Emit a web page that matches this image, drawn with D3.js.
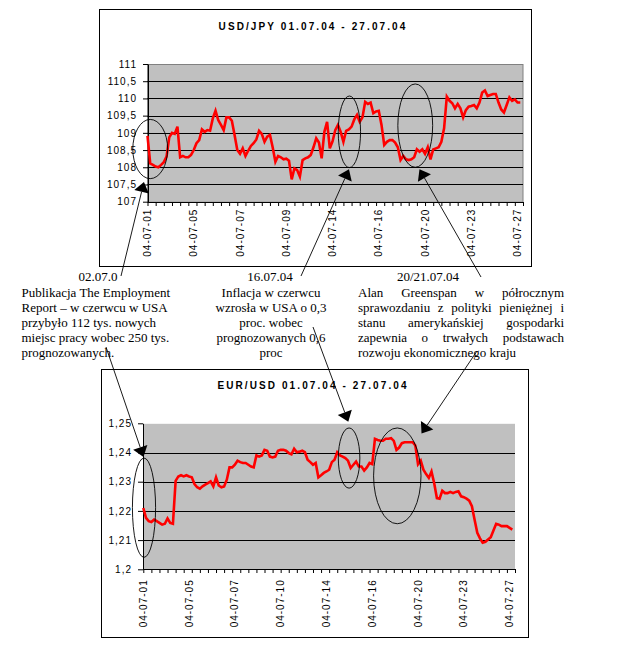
<!DOCTYPE html>
<html>
<head>
<meta charset="utf-8">
<script src="https://cdn.jsdelivr.net/npm/d3@7"></script>
<style>
body { margin: 0; background: #fff; }
svg { display: block; }
</style>
</head>
<body>
<svg id="chart" width="618" height="668"></svg>
<script>
// USD/JPY, one value per category slot
var usdJpy = [
	108.91, 108.11, 108.07, 108.02, 108.00, 108.07, 108.15, 108.31, 108.87, 109.00,
	108.97, 109.18, 108.29, 108.33, 108.29, 108.29, 108.36, 108.50, 108.70, 108.79,
	109.10, 109.03, 109.08, 109.06, 109.42, 109.64, 109.37, 109.23, 109.08, 109.45,
	109.45, 109.35, 108.94, 108.50, 108.39, 108.55, 108.33, 108.48, 108.62, 108.70,
	108.81, 109.06, 108.97, 108.74, 108.89, 108.94, 108.58, 108.16, 108.33, 108.29,
	108.23, 108.25, 108.19, 107.65, 107.97, 107.92, 107.73, 108.21, 108.26, 108.29,
	108.36, 108.58, 108.84, 108.72, 108.26, 109.03, 109.32, 108.55, 108.75, 109.08,
	109.23, 109.03, 108.74, 109.06, 109.10, 109.18, 109.39, 109.52, 109.32, 109.45,
	109.90, 109.84, 109.88, 109.57, 109.62, 109.64, 109.23, 108.65, 108.74, 108.79,
	108.79, 108.72, 108.58, 108.21, 108.33, 108.23, 108.21, 108.23, 108.29, 108.52,
	108.45, 108.52, 108.39, 108.58, 108.23, 108.52, 108.55, 108.58, 108.74, 109.13,
	110.05, 109.93, 109.86, 109.71, 109.84, 109.71, 109.45, 109.66, 109.76, 109.78,
	109.81, 109.71, 109.88, 110.17, 110.23, 110.07, 110.10, 110.13, 110.13, 109.88,
	109.68, 109.59, 109.81, 110.03, 109.93, 109.97, 109.88, 109.88
];

// EUR/USD
var eurUsd = [
	1.2210, 1.2176, 1.2165, 1.2162, 1.2170, 1.2165, 1.2159, 1.2153, 1.2156, 1.2174,
	1.2159, 1.2156, 1.2303, 1.2318, 1.2322, 1.2318, 1.2322, 1.2318, 1.2315, 1.2292,
	1.2281, 1.2276, 1.2284, 1.2290, 1.2295, 1.2301, 1.2284, 1.2315, 1.2287, 1.2281,
	1.2284, 1.2307, 1.2349, 1.2349, 1.2358, 1.2372, 1.2367, 1.2364, 1.2364, 1.2358,
	1.2352, 1.2349, 1.2390, 1.2386, 1.2390, 1.2409, 1.2406, 1.2386, 1.2383, 1.2386,
	1.2406, 1.2409, 1.2409, 1.2406, 1.2398, 1.2394, 1.2413, 1.2401, 1.2403, 1.2406,
	1.2401, 1.2375, 1.2367, 1.2358, 1.2364, 1.2315, 1.2322, 1.2330, 1.2335, 1.2341,
	1.2367, 1.2375, 1.2401, 1.2390, 1.2386, 1.2381, 1.2372, 1.2347, 1.2358, 1.2369,
	1.2352, 1.2352, 1.2338, 1.2349, 1.2364, 1.2360, 1.2447, 1.2443, 1.2440, 1.2440,
	1.2447, 1.2447, 1.2449, 1.2440, 1.2409, 1.2417, 1.2432, 1.2435, 1.2435, 1.2435,
	1.2435, 1.2424, 1.2360, 1.2372, 1.2341, 1.2326, 1.2313, 1.2335, 1.2295, 1.2244,
	1.2242, 1.2269, 1.2261, 1.2261, 1.2265, 1.2261, 1.2265, 1.2267, 1.2250, 1.2247,
	1.2242, 1.2235, 1.2216, 1.2170, 1.2125, 1.2106, 1.2091, 1.2094, 1.2102, 1.2110,
	1.2133, 1.2156, 1.2153, 1.2148, 1.2148, 1.2148, 1.2142, 1.2136
];

var topDates = ["04-07-01", "04-07-05", "04-07-07", "04-07-09", "04-07-14", "04-07-16", "04-07-20", "04-07-23", "04-07-27"];
var bottomDates = ["04-07-01", "04-07-05", "04-07-07", "04-07-10", "04-07-14", "04-07-16", "04-07-20", "04-07-23", "04-07-27"];
var topTicks = [107, 107.5, 108, 108.5, 109, 109.5, 110, 110.5, 111];
var bottomTicks = [1.2, 1.21, 1.22, 1.23, 1.24, 1.25];

var topTitle = "USD/JPY 01.07.04 - 27.07.04";
var bottomTitle = "EUR/USD 01.07.04 - 27.07.04";

// ellipses: centre (slot, value), radii (slots, value units)
var topRings = [[1.0, 108.53, 6.4, 0.86], [74.2, 109.03, 4.1, 1.04], [98.4, 109.21, 6.4, 1.21]];
var bottomRings = [[0.26, 1.2211, 4.3, 0.0170], [76.4, 1.2381, 4.0, 0.0103], [94.3, 1.2320, 8.8, 0.0164]];

// arrow tips in chart coordinates (slot, value)
var topTips = [[-1.3, 107.57], [74.05, 107.94], [99.96, 107.94]];
var bottomTips = [[0.07, 1.2385], [76.1, 1.2505], [103.3, 1.2465]];

var noteDates = ["02.07.0", "16.07.04", "20/21.07.04"];
var note1 = ["Publikacja The Employment", "Report \u2013 w czerwcu w USA", "przybyło 112 tys. nowych", "miejsc pracy wobec 250 tys.", "prognozowanych."];
var note2 = ["Inflacja w czerwcu", "wzrosła w USA o 0,3", "proc. wobec", "prognozowanych 0,6", "proc"];
var note3 = ["Alan Greenspan w półrocznym", "sprawozdaniu z polityki pieniężnej i", "stanu amerykańskiej gospodarki", "zapewnia o trwałych podstawach", "rozwoju ekonomicznego kraju"];

var slots = 138, tickEvery = 3, labelEvery = 17;

var svg = d3.select("#chart");
var axisFont = "Arial, 'Liberation Sans', sans-serif";
var noteFont = "'Times New Roman', 'Liberation Serif', serif";

function fmt(d) {
	return String(d).replace(".", ",");
}

function drawChart(cfg, values, ticks, dates, title, rings) {
	var g = svg.append("g");
	var p = cfg.plot;

	g.append("rect")
		.attr("x", cfg.frame[0] + 0.5).attr("y", cfg.frame[1] + 0.5)
		.attr("width", cfg.frame[2] - cfg.frame[0]).attr("height", cfg.frame[3] - cfg.frame[1])
		.attr("fill", "#fff").attr("stroke", "#000");

	var x = d3.scaleLinear().domain([0, slots]).range([p[0], p[2]]);
	var y = d3.scaleLinear().domain([ticks[0], ticks[ticks.length - 1]]).range([p[3], p[1]]);

	g.append("rect")
		.attr("x", p[0]).attr("y", p[1] + 0.5)
		.attr("width", p[2] - p[0]).attr("height", p[3] - p[1])
		.attr("fill", "#c0c0c0")
		.attr("stroke", cfg.border ? "#808080" : "none");

	g.append("g").selectAll("line")
		.data(ticks.slice(1, -1))
		.join("line")
		.attr("x1", p[0]).attr("x2", p[2])
		.attr("y1", function(d) { return Math.round(y(d)) + 0.5; })
		.attr("y2", function(d) { return Math.round(y(d)) + 0.5; })
		.attr("stroke", "#000");

	var yAxis = g.append("g")
		.attr("transform", "translate(" + Math.round(p[0]) + ",0)")
		.call(d3.axisLeft(y).tickValues(ticks).tickSize(5).tickPadding(6).tickSizeOuter(0).tickFormat(fmt));

	var xAxis = g.append("g")
		.attr("transform", "translate(0," + Math.round(p[3]) + ")")
		.call(d3.axisBottom(x).tickValues(d3.range(0, slots + 1, tickEvery)).tickSize(4).tickSizeOuter(0).tickFormat(""));

	[yAxis, xAxis].forEach(function(a) {
		a.selectAll("path, line").attr("stroke", "#000");
	});
	yAxis.selectAll("text")
		.attr("font-family", axisFont).attr("font-size", 10)
		.attr("letter-spacing", 1).attr("fill", "#000");

	g.append("g").selectAll("text")
		.data(dates)
		.join("text")
		.attr("transform", function(d, i) {
			return "translate(" + x(i * labelEvery) + "," + (p[3] + cfg.labelGap) + ") rotate(-90)";
		})
		.attr("dy", "0.35em")
		.attr("text-anchor", "end")
		.attr("font-family", axisFont).attr("font-size", 10)
		.attr("letter-spacing", 1)
		.text(function(d) { return d; });

	var line = d3.line()
		.x(function(d, i) { return x(i); })
		.y(function(d) { return y(d); });

	g.append("path")
		.datum(values)
		.attr("d", line)
		.attr("fill", "none")
		.attr("stroke", "#ff0000")
		.attr("stroke-width", 2.6);

	g.append("g").selectAll("ellipse")
		.data(rings)
		.join("ellipse")
		.attr("cx", function(d) { return x(d[0]); })
		.attr("cy", function(d) { return y(d[1]); })
		.attr("rx", function(d) { return x(d[2]) - x(0); })
		.attr("ry", function(d) { return y(0) - y(d[3]); })
		.attr("fill", "none")
		.attr("stroke", "#000")
		.attr("stroke-width", 0.9);

	g.append("text")
		.attr("x", 313).attr("y", cfg.titleY)
		.attr("text-anchor", "middle")
		.attr("font-family", axisFont).attr("font-size", 10)
		.attr("font-weight", "bold")
		.attr("letter-spacing", 2.1)
		.text(title);

	return {x: x, y: y};
}

var topChart = drawChart(
	{frame: [99, 9, 531, 266], plot: [147.5, 64, 523, 201.7], titleY: 30, labelGap: 7, border: true},
	usdJpy, topTicks, topDates, topTitle, topRings);

var bottomChart = drawChart(
	{frame: [101, 369, 528, 637], plot: [143.3, 423.3, 515, 569.3], titleY: 389, labelGap: 10, border: false},
	eurUsd, bottomTicks, bottomDates, bottomTitle, bottomRings);

// notes under the top chart
var gNotes = svg.append("g")
	.attr("font-family", noteFont)
	.attr("font-size", 13)
	.attr("fill", "#000");

var dateX = [98, 270, 428];
noteDates.forEach(function(t, i) {
	gNotes.append("text").attr("x", dateX[i]).attr("y", 280.5)
		.attr("text-anchor", "middle").text(t);
});

note1.forEach(function(t, i) {
	gNotes.append("text").attr("x", 21.5).attr("y", 296.5 + i * 15).text(t);
});

note2.forEach(function(t, i) {
	gNotes.append("text").attr("x", 271).attr("y", 296.5 + i * 15)
		.attr("text-anchor", "middle").text(t);
});

// third note is justified between left and right edge, last line flush left
var jLeft = 358, jRight = 564;
note3.forEach(function(t, i) {
	var yy = 296.5 + i * 15;
	if (i == note3.length - 1) {
		gNotes.append("text").attr("x", jLeft).attr("y", yy).text(t);
		return;
	}
	var words = t.split(" ");
	var nodes = words.map(function(w) {
		return gNotes.append("text").attr("y", yy).text(w);
	});
	var widths = nodes.map(function(n) { return n.node().getComputedTextLength(); });
	var gap = (jRight - jLeft - d3.sum(widths)) / (words.length - 1);
	var cx = jLeft;
	nodes.forEach(function(n, k) {
		n.attr("x", cx);
		cx += widths[k] + gap;
	});
});

// arrows from the notes to the charts
var topTails = [[121, 276], [301, 276], [481, 277]];
var bottomTails = [[106, 347], [313, 327], [477, 351]];

function drawArrow(tail, tip) {
	var dx = tip[0] - tail[0], dy = tip[1] - tail[1];
	var len = Math.sqrt(dx * dx + dy * dy);
	var ux = dx / len, uy = dy / len;
	var bx = tip[0] - ux * 10, by = tip[1] - uy * 10;
	svg.append("line")
		.attr("x1", tail[0]).attr("y1", tail[1])
		.attr("x2", bx).attr("y2", by)
		.attr("stroke", "#000").attr("stroke-width", 0.9);
	svg.append("polygon")
		.attr("points", [
			[tip[0], tip[1]],
			[bx - uy * 7.5, by + ux * 7.5],
			[bx + uy * 7.5, by - ux * 7.5]
		].map(function(p) { return p.join(","); }).join(" "))
		.attr("fill", "#000");
}

topTips.forEach(function(t, i) {
	drawArrow(topTails[i], [topChart.x(t[0]), topChart.y(t[1])]);
});
bottomTips.forEach(function(t, i) {
	drawArrow(bottomTails[i], [bottomChart.x(t[0]), bottomChart.y(t[1])]);
});
</script>
</body>
</html>
